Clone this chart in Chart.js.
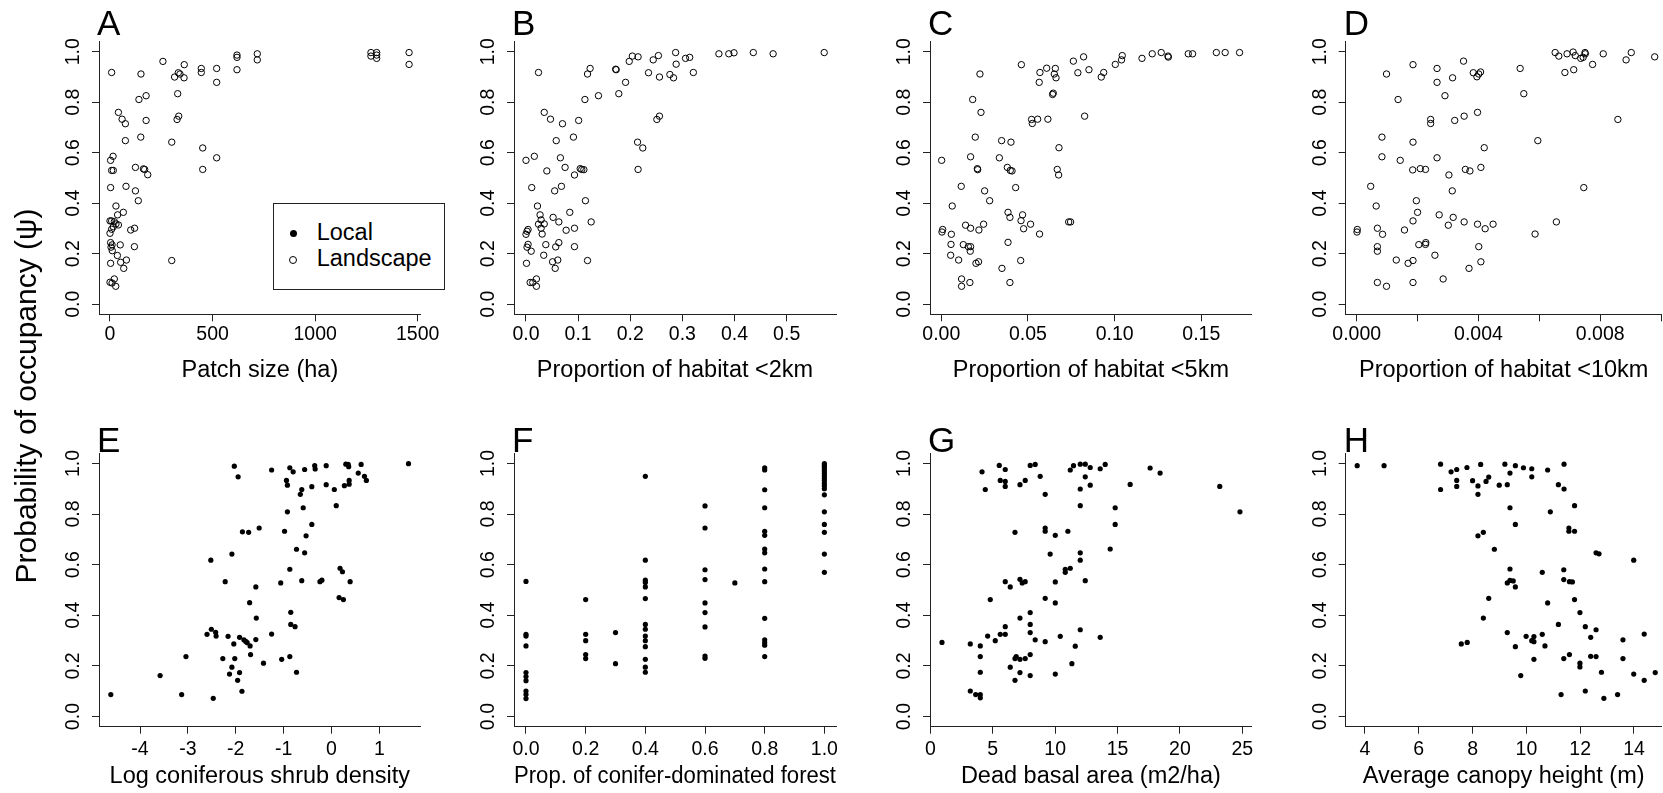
<!DOCTYPE html>
<html lang="en">
<head>
<meta charset="utf-8">
<title>Probability of occupancy</title>
<script src="https://cdn.jsdelivr.net/npm/chart.js"></script>
<style>
  html, body { margin: 0; padding: 0; background: #fff; }
  body { position: relative; width: 1663px; height: 793px; overflow: hidden;
         font-family: "Liberation Sans", Arial, sans-serif; color: #000; }
  canvas { position: absolute; }
  .letter { position: absolute; font-size: 35px; line-height: 35px; }
  #yTitle { position: absolute; left: -194px; top: 381px; width: 440px; height: 30px;
            line-height: 30px; font-size: 30px; text-align: center; white-space: nowrap;
            transform: rotate(-90deg); }
  #legend { position: absolute; left: 273px; top: 203px; width: 172px; height: 87px;
            border: 1px solid #222; box-sizing: border-box; background: #fff; }
  #legend .dot { position: absolute; left: 15.8px; top: 25.8px; width: 7px; height: 7px;
                 border-radius: 50%; background: #000; }
  #legend .ring { position: absolute; left: 15.3px; top: 52px; width: 8px; height: 8px;
                  border-radius: 50%; border: 1px solid #000; box-sizing: border-box; }
  #legend .txt { position: absolute; left: 42.7px; font-size: 23.5px; line-height: 23.5px; white-space: nowrap; }
</style>
</head>
<body>

<script>
// ---- data ----
const occTicks = [0, 0.2, 0.4, 0.6, 0.8, 1.0];
const occLabels = ['0.0', '0.2', '0.4', '0.6', '0.8', '1.0'];

// A: patch size (landscape)
const patchTicks = [0, 500, 1000, 1500];
const patchLabels = ['0', '500', '1000', '1500'];
const patchX = [8, 151, 258, 362, 315, 333, 341, 361, 445, 445,
  520, 520, 619, 619, 619, 718, 718, 1272, 1272, 1300,
  1300, 1300, 1458, 1458, 141, 176, 330, 41, 59, 75,
  176, 335, 327, 150, 75, 301, 452, 520, 452, 15,
  3, 8, 16, 124, 163, 169, 184, 3, 78, 124,
  138, 29, 65, 37, 0, 8, 21, 29, 41, 16,
  8, 0, 101, 120, 3, 10, 5, 50, 119, 11,
  36, 3, 52, 80, 67, 301, 21, 0, 10, 28];
const patchY = [0.918, 0.912, 0.962, 0.949, 0.900, 0.917, 0.912, 0.897, 0.934, 0.918,
  0.934, 0.879, 0.987, 0.978, 0.929, 0.992, 0.968, 0.997, 0.983, 0.997,
  0.987, 0.974, 0.997, 0.950, 0.811, 0.826, 0.834, 0.760, 0.733, 0.715,
  0.728, 0.745, 0.732, 0.662, 0.648, 0.642, 0.619, 0.580, 0.534, 0.586,
  0.570, 0.530, 0.530, 0.542, 0.536, 0.534, 0.513, 0.462, 0.467, 0.449,
  0.410, 0.389, 0.364, 0.354, 0.330, 0.330, 0.327, 0.318, 0.314, 0.307,
  0.297, 0.281, 0.294, 0.301, 0.244, 0.235, 0.226, 0.235, 0.228, 0.212,
  0.193, 0.162, 0.166, 0.175, 0.142, 0.173, 0.100, 0.087, 0.084, 0.071];

// B: habitat < 2km (landscape)
const hab2Ticks = [0, 0.1, 0.2, 0.3, 0.4, 0.5];
const hab2Labels = ['0.0', '0.1', '0.2', '0.3', '0.4', '0.5'];
const hab2X = [0.024, 0.118, 0.123, 0.172, 0.173, 0.198, 0.204, 0.215, 0.191, 0.178,
  0.139, 0.113, 0.235, 0.244, 0.254, 0.256, 0.276, 0.283, 0.287, 0.288,
  0.306, 0.314, 0.321, 0.370, 0.389, 0.399, 0.436, 0.474, 0.572, 0.251,
  0.256, 0.214, 0.224, 0.215, 0.035, 0.047, 0.070, 0.101, 0.091, 0.058,
  0.066, 0.016, 0.000, 0.040, 0.075, 0.093, 0.104, 0.107, 0.111, 0.011,
  0.068, 0.055, 0.114, 0.022, 0.084, 0.027, 0.029, 0.052, 0.063, 0.125,
  0.024, 0.035, 0.029, 0.031, 0.077, 0.093, 0.000, 0.002, 0.004, 0.004,
  0.002, 0.010, 0.038, 0.057, 0.063, 0.093, 0.034, 0.001, 0.051, 0.061,
  0.056, 0.118, 0.020, 0.008, 0.013, 0.020];
const hab2Y = [0.918, 0.912, 0.934, 0.931, 0.929, 0.962, 0.983, 0.980, 0.879, 0.834,
  0.826, 0.811, 0.917, 0.968, 0.985, 0.900, 0.910, 0.897, 0.997, 0.951,
  0.974, 0.978, 0.918, 0.992, 0.992, 0.996, 0.997, 0.992, 0.997, 0.732,
  0.745, 0.642, 0.619, 0.534, 0.760, 0.733, 0.715, 0.728, 0.662, 0.648,
  0.580, 0.586, 0.570, 0.528, 0.542, 0.512, 0.537, 0.534, 0.533, 0.462,
  0.467, 0.449, 0.410, 0.389, 0.364, 0.354, 0.334, 0.344, 0.326, 0.326,
  0.317, 0.318, 0.301, 0.278, 0.293, 0.301, 0.277, 0.289, 0.296, 0.237,
  0.226, 0.210, 0.236, 0.227, 0.244, 0.228, 0.194, 0.162, 0.168, 0.175,
  0.142, 0.173, 0.100, 0.086, 0.086, 0.071];

// C: habitat < 5km (landscape)
const hab5Ticks = [0, 0.05, 0.10, 0.15];
const hab5Labels = ['0.00', '0.05', '0.10', '0.15'];
const hab5X = [0.0462, 0.0223, 0.0569, 0.0608, 0.0565, 0.0658, 0.0652, 0.0662, 0.0642, 0.0646,
  0.0762, 0.0821, 0.0788, 0.0852, 0.0923, 0.0937, 0.1004, 0.1040, 0.1044, 0.1158,
  0.1217, 0.1269, 0.1308, 0.1310, 0.1425, 0.1450, 0.1587, 0.1638, 0.1721, 0.0827,
  0.0521, 0.0525, 0.0556, 0.0615, 0.0181, 0.0229, 0.0196, 0.0348, 0.0402, 0.0679,
  0.0335, 0.0169, 0.0002, 0.0208, 0.0210, 0.0381, 0.0398, 0.0408, 0.0669, 0.0677,
  0.0115, 0.0250, 0.0429, 0.0279, 0.0063, 0.0385, 0.0469, 0.0396, 0.0460, 0.0515,
  0.0475, 0.0140, 0.0169, 0.0244, 0.0217, 0.0008, 0.0004, 0.0058, 0.0567, 0.0735,
  0.0746, 0.0056, 0.0127, 0.0156, 0.0169, 0.0167, 0.0054, 0.0100, 0.0200, 0.0215,
  0.0385, 0.0458, 0.0350, 0.0117, 0.0117, 0.0165, 0.0396];
const hab5Y = [0.949, 0.912, 0.918, 0.935, 0.879, 0.934, 0.912, 0.897, 0.831, 0.836,
  0.963, 0.980, 0.917, 0.929, 0.900, 0.918, 0.950, 0.968, 0.985, 0.974,
  0.992, 0.997, 0.983, 0.979, 0.992, 0.992, 0.997, 0.997, 0.997, 0.745,
  0.732, 0.716, 0.733, 0.733, 0.811, 0.760, 0.662, 0.648, 0.642, 0.620,
  0.580, 0.584, 0.570, 0.537, 0.533, 0.542, 0.530, 0.528, 0.534, 0.512,
  0.467, 0.449, 0.462, 0.410, 0.389, 0.364, 0.354, 0.344, 0.331, 0.317,
  0.299, 0.313, 0.301, 0.317, 0.294, 0.296, 0.286, 0.277, 0.278, 0.326,
  0.326, 0.237, 0.236, 0.228, 0.228, 0.210, 0.194, 0.175, 0.162, 0.168,
  0.245, 0.173, 0.142, 0.100, 0.071, 0.086, 0.086];

// D: habitat < 10km (landscape)
const hab10Ticks = [0, 0.002, 0.004, 0.006, 0.008, 0.010];
const hab10Labels = ['0.000', '', '0.004', '', '0.008', ''];
const hab10X = [0.00185, 0.00098, 0.00264, 0.00264, 0.00315, 0.00351, 0.00383, 0.00395, 0.00401, 0.00407,
  0.00290, 0.00136, 0.00537, 0.00549, 0.00652, 0.00664, 0.00684, 0.00691, 0.00711, 0.00713,
  0.00718, 0.00736, 0.00744, 0.00750, 0.00751, 0.00775, 0.00810, 0.00885, 0.00902, 0.00979,
  0.00858, 0.00243, 0.00243, 0.00322, 0.00353, 0.00397, 0.00083, 0.00185, 0.00595, 0.00419,
  0.00083, 0.00143, 0.00264, 0.00184, 0.00209, 0.00226, 0.00303, 0.00357, 0.00372, 0.00408,
  0.00046, 0.00314, 0.00746, 0.00196, 0.00064, 0.00200, 0.00271, 0.00185, 0.00317, 0.00353,
  0.00301, 0.00397, 0.00422, 0.00448, 0.00656, 0.00586, 0.00068, 0.00085, 0.00157, 0.00002,
  0.00001, 0.00068, 0.00068, 0.00204, 0.00226, 0.00227, 0.00257, 0.00401, 0.00130, 0.00169,
  0.00185, 0.00369, 0.00408, 0.00068, 0.00098, 0.00185, 0.00284];
const hab10Y = [0.949, 0.912, 0.934, 0.879, 0.897, 0.963, 0.917, 0.901, 0.912, 0.920,
  0.826, 0.811, 0.934, 0.834, 0.997, 0.983, 0.918, 0.992, 0.999, 0.929,
  0.985, 0.974, 0.978, 0.997, 0.992, 0.950, 0.992, 0.968, 0.997, 0.980,
  0.732, 0.732, 0.716, 0.728, 0.745, 0.760, 0.662, 0.642, 0.648, 0.620,
  0.584, 0.570, 0.580, 0.532, 0.537, 0.534, 0.512, 0.534, 0.528, 0.542,
  0.467, 0.449, 0.462, 0.410, 0.389, 0.364, 0.354, 0.330, 0.344, 0.326,
  0.313, 0.317, 0.299, 0.317, 0.326, 0.278, 0.301, 0.277, 0.294, 0.296,
  0.286, 0.228, 0.210, 0.236, 0.237, 0.244, 0.194, 0.228, 0.175, 0.162,
  0.173, 0.142, 0.168, 0.086, 0.071, 0.086, 0.100];

// E: log coniferous shrub density (local)
const shrubTicks = [-4, -3, -2, -1, 0, 1];
const shrubLabels = ['-4', '-3', '-2', '-1', '0', '1'];
const shrubX = [-4.61, -3.58, -3.13, -3.04, -2.47, -2.60, -2.51, -2.42, -2.41, -2.52,
  -2.22, -2.08, -2.16, -2.27, -2.13, -2.08, -2.04, -2.02, -2.03, -1.95,
  -1.96, -1.92, -1.87, -1.92, -1.86, -1.83, -1.79, -1.76, -1.73, -1.71,
  -1.70, -1.69, -1.58, -1.57, -1.58, -1.51, -1.42, -1.25, -1.25, -1.06,
  -1.04, -0.98, -0.94, -0.92, -0.92, -0.87, -0.87, -0.87, -0.85, -0.85,
  -0.80, -0.76, -0.73, -0.73, -0.65, -0.62, -0.62, -0.59, -0.56, -0.56,
  -0.53, -0.41, -0.41, -0.35, -0.34, -0.24, -0.20, -0.11, -0.11, 0.06,
  0.10, 0.16, 0.18, 0.23, 0.25, 0.27, 0.30, 0.35, 0.36, 0.37,
  0.37, 0.39, 0.56, 0.62, 0.69, 0.73, 1.61];
const shrubY = [0.087, 0.162, 0.087, 0.237, 0.072, 0.325, 0.345, 0.333, 0.318, 0.618,
  0.533, 0.642, 0.317, 0.229, 0.168, 0.195, 0.287, 0.229, 0.989, 0.947,
  0.143, 0.174, 0.100, 0.313, 0.730, 0.303, 0.297, 0.292, 0.728, 0.450,
  0.279, 0.245, 0.512, 0.389, 0.304, 0.745, 0.211, 0.974, 0.326, 0.528,
  0.226, 0.732, 0.933, 0.914, 0.809, 0.582, 0.983, 0.237, 0.412, 0.364,
  0.967, 0.355, 0.661, 0.175, 0.878, 0.897, 0.537, 0.825, 0.976, 0.647,
  0.714, 0.759, 0.908, 0.991, 0.978, 0.533, 0.539, 0.991, 0.916, 0.897,
  0.833, 0.470, 0.586, 0.572, 0.462, 0.912, 0.997, 0.996, 0.987, 0.933,
  0.918, 0.533, 0.962, 0.996, 0.949, 0.933, 0.999];

// F: proportion of conifer-dominated forest (local)
const coniferTicks = [0, 0.2, 0.4, 0.6, 0.8, 1.0];
const coniferLabels = ['0.0', '0.2', '0.4', '0.6', '0.8', '1.0'];
const coniferX = [0, 0, 0, 0, 0, 0, 0, 0, 0, 0,
  0.2, 0.2, 0.2, 0.2, 0.2,
  0.3, 0.3,
  0.4, 0.4, 0.4, 0.4, 0.4, 0.4, 0.4, 0.4, 0.4, 0.4, 0.4, 0.4, 0.4, 0.4,
  0.6, 0.6, 0.6, 0.6, 0.6, 0.6, 0.6, 0.6, 0.6,
  0.7,
  0.8, 0.8, 0.8, 0.8, 0.8, 0.8, 0.8, 0.8, 0.8, 0.8, 0.8, 0.8, 0.8, 0.8, 0.8,
  1, 1, 1, 1, 1, 1, 1, 1, 1, 1, 1, 1, 1, 1, 1, 1, 1, 1];
const coniferY = [0.534, 0.325, 0.318, 0.279, 0.174, 0.158, 0.142, 0.101, 0.087, 0.071,
  0.462, 0.325, 0.300, 0.245, 0.229,
  0.332, 0.209,
  0.949, 0.618, 0.539, 0.530, 0.512, 0.466, 0.364, 0.345, 0.318, 0.300, 0.276, 0.226, 0.195, 0.175,
  0.832, 0.745, 0.580, 0.541, 0.449, 0.411, 0.354, 0.239, 0.230,
  0.528,
  0.983, 0.974, 0.896, 0.825, 0.732, 0.716, 0.662, 0.647, 0.583, 0.533, 0.388, 0.303, 0.292, 0.282, 0.237,
  0.999, 0.992, 0.986, 0.978, 0.970, 0.961, 0.951, 0.942, 0.933, 0.921, 0.911, 0.900, 0.876, 0.809, 0.759, 0.728, 0.642, 0.570];

// G: dead basal area (local)
const deadTicks = [0, 5, 10, 15, 20, 25];
const deadLabels = ['0', '5', '10', '15', '20', '25'];
const deadX = [0.93, 3.20, 3.20, 3.63, 4.00, 4.00, 4.00, 4.00, 4.00, 4.14,
  4.40, 4.59, 4.80, 5.20, 5.52, 5.60, 5.60, 6.00, 6.00, 6.00,
  6.00, 6.00, 6.00, 6.40, 6.40, 6.78, 6.78, 6.78, 6.88, 7.18,
  7.18, 7.18, 7.18, 7.18, 7.36, 7.60, 7.60, 7.60, 8.00, 8.00,
  8.00, 8.00, 8.00, 8.00, 8.40, 8.40, 8.80, 9.20, 9.20, 9.20,
  9.20, 9.20, 9.60, 10.01, 10.01, 10.01, 10.01, 10.41, 10.81, 10.81,
  11.02, 11.21, 11.21, 11.34, 11.47, 11.61, 12.01, 12.01, 12.01, 12.01,
  12.01, 12.01, 12.41, 12.41, 12.41, 12.81, 12.81, 13.61, 13.61, 14.01,
  14.41, 14.81, 14.81, 16.01, 17.61, 18.41, 23.19, 24.81];
const deadY = [0.293, 0.287, 0.101, 0.087, 0.087, 0.074, 0.279, 0.237, 0.175, 0.967,
  0.897, 0.318, 0.462, 0.300, 0.992, 0.933, 0.325, 0.976, 0.929, 0.909,
  0.533, 0.355, 0.325, 0.512, 0.195, 0.728, 0.229, 0.143, 0.237, 0.916,
  0.542, 0.389, 0.226, 0.174, 0.528, 0.533, 0.933, 0.229, 0.992, 0.411,
  0.364, 0.332, 0.245, 0.162, 0.996, 0.303, 0.949, 0.878, 0.745, 0.732,
  0.467, 0.296, 0.642, 0.716, 0.532, 0.449, 0.168, 0.317, 0.582, 0.570,
  0.732, 0.974, 0.586, 0.209, 0.991, 0.278, 0.997, 0.899, 0.833, 0.647,
  0.618, 0.343, 0.997, 0.947, 0.537, 0.984, 0.914, 0.979, 0.313, 0.996,
  0.662, 0.825, 0.759, 0.917, 0.982, 0.962, 0.909, 0.809];

// H: average canopy height (local)
const canopyTicks = [4, 6, 8, 10, 12, 14];
const canopyLabels = ['4', '6', '8', '10', '12', '14'];
const canopyX = [3.71, 4.71, 6.81, 6.81, 7.20, 7.41, 7.41, 7.41, 7.58, 7.79,
  7.80, 8.00, 8.20, 8.20, 8.20, 8.30, 8.40, 8.40, 8.50, 8.60,
  8.60, 8.81, 8.99, 9.20, 9.29, 9.29, 9.29, 9.39, 9.39, 9.39,
  9.39, 9.51, 9.59, 9.59, 9.59, 9.59, 9.79, 9.89, 9.99, 10.20,
  10.20, 10.20, 10.28, 10.28, 10.28, 10.59, 10.59, 10.69, 10.79, 10.79,
  10.89, 11.19, 11.19, 11.29, 11.40, 11.40, 11.39, 11.39, 11.39, 11.58,
  11.58, 11.60, 11.60, 11.71, 11.79, 11.79, 11.79, 11.99, 11.99, 11.99,
  12.19, 12.19, 12.39, 12.39, 12.59, 12.59, 12.59, 12.70, 12.79, 12.88,
  13.39, 13.59, 13.59, 13.99, 13.99, 14.38, 14.38, 14.79];
const canopyY = [0.991, 0.991, 0.997, 0.897, 0.967, 0.976, 0.933, 0.909, 0.287, 0.984,
  0.293, 0.932, 0.911, 0.878, 0.714, 0.996, 0.728, 0.389, 0.929, 0.946,
  0.467, 0.661, 0.914, 0.997, 0.916, 0.528, 0.332, 0.962, 0.825, 0.583,
  0.538, 0.536, 0.991, 0.759, 0.512, 0.276, 0.162, 0.983, 0.317, 0.979,
  0.947, 0.300, 0.316, 0.296, 0.226, 0.570, 0.325, 0.279, 0.974, 0.449,
  0.809, 0.916, 0.364, 0.087, 0.997, 0.899, 0.580, 0.541, 0.229, 0.745,
  0.732, 0.533, 0.245, 0.532, 0.833, 0.732, 0.462, 0.411, 0.211, 0.196,
  0.355, 0.101, 0.313, 0.238, 0.647, 0.343, 0.237, 0.643, 0.175, 0.072,
  0.087, 0.303, 0.229, 0.618, 0.168, 0.326, 0.143, 0.174];

// ---- layout ----
const AXIS = '#222';
const Y_AXIS_W = 60;
const ROWS = [
  { top: 41.7, bottom: 314.3, xAxisH: 72, tickPad: 1.5, letterTop: 5.4 },
  { top: 453.3, bottom: 726.7, xAxisH: 65.6, tickPad: 4, letterTop: 422.1 }
];
const COLS = [
  { left: 99, right: 420.7, padR: 26 },
  { left: 514, right: 836, padR: 26 },
  { left: 930, right: 1251.7, padR: 26 },
  { left: 1345.7, right: 1661.7, padR: 6 }
];

const panels = [
  { letter: 'A', row: 0, col: 0, local: false, xs: patchX, ys: patchY, ticks: patchTicks, labels: patchLabels, min: -53.6, max: 1514.6, title: 'Patch size (ha)' },
  { letter: 'B', row: 0, col: 1, local: false, xs: hab2X, ys: hab2Y, ticks: hab2Ticks, labels: hab2Labels, min: -0.023, max: 0.5946, title: 'Proportion of habitat <2km' },
  { letter: 'C', row: 0, col: 2, local: false, xs: hab5X, ys: hab5Y, ticks: hab5Ticks, labels: hab5Labels, min: -0.00652, max: 0.1791, title: 'Proportion of habitat <5km' },
  { letter: 'D', row: 0, col: 3, local: false, xs: hab10X, ys: hab10Y, ticks: hab10Ticks, labels: hab10Labels, min: -0.000361, max: 0.01002, title: 'Proportion of habitat <10km' },
  { letter: 'E', row: 1, col: 0, local: true, xs: shrubX, ys: shrubY, ticks: shrubTicks, labels: shrubLabels, min: -4.857, max: 1.865, title: 'Log coniferous shrub density' },
  { letter: 'F', row: 1, col: 1, local: true, xs: coniferX, ys: coniferY, ticks: coniferTicks, labels: coniferLabels, min: -0.0402, max: 1.039, title: 'Prop. of conifer-dominated forest' },
  { letter: 'G', row: 1, col: 2, local: true, xs: deadX, ys: deadY, ticks: deadTicks, labels: deadLabels, min: -0.03, max: 25.75, title: 'Dead basal area (m2/ha)' },
  { letter: 'H', row: 1, col: 3, local: true, xs: canopyX, ys: canopyY, ticks: canopyTicks, labels: canopyLabels, min: 3.283, max: 15.03, title: 'Average canopy height (m)' }
];

Chart.defaults.font.family = '"Liberation Sans", Arial, sans-serif';
Chart.defaults.color = '#000';

function axisStyle() {
  return {
    grid: { drawOnChartArea: false, drawTicks: true, tickLength: 7, color: AXIS, lineWidth: 1 },
    border: { display: true, color: AXIS, width: 1 }
  };
}

function makePanel(p) {
  const row = ROWS[p.row];
  const col = COLS[p.col];
  const cl = Math.floor(col.left - Y_AXIS_W - 2);
  const ct = Math.floor(row.top - 32);
  const cr = Math.ceil(col.right + col.padR);
  const cb = Math.ceil(row.bottom + row.xAxisH + 2);

  const canvas = document.createElement('canvas');
  canvas.width = cr - cl;
  canvas.height = cb - ct;
  canvas.style.left = cl + 'px';
  canvas.style.top = ct + 'px';
  canvas.style.width = (cr - cl) + 'px';
  canvas.style.height = (cb - ct) + 'px';
  document.body.appendChild(canvas);

  const letter = document.createElement('div');
  letter.className = 'letter';
  letter.textContent = p.letter;
  letter.style.left = (col.left - 2) + 'px';
  letter.style.top = row.letterTop + 'px';
  document.body.appendChild(letter);

  const points = p.xs.map((x, i) => ({ x: x, y: p.ys[i] }));
  const markStyle = p.local
    ? { pointRadius: 2.6, borderWidth: 0, backgroundColor: '#000', borderColor: '#000' }
    : { pointRadius: 3.2, borderWidth: 1, backgroundColor: 'rgba(0,0,0,0)', borderColor: '#000' };

  new Chart(canvas, {
    type: 'scatter',
    data: {
      datasets: [Object.assign({ label: p.local ? 'Local' : 'Landscape', data: points, pointStyle: 'circle', pointHoverRadius: 3 }, markStyle)]
    },
    options: {
      responsive: false,
      animation: false,
      devicePixelRatio: 1,
      layout: {
        padding: {
          left: col.left - Y_AXIS_W - cl,
          right: cr - col.right,
          top: row.top - ct,
          bottom: cb - row.bottom - row.xAxisH
        }
      },
      plugins: { legend: { display: false }, tooltip: { enabled: false } },
      scales: {
        x: Object.assign({
          type: 'linear', position: 'bottom', bounds: 'data', min: p.min, max: p.max,
          afterBuildTicks: s => { s.ticks = p.ticks.map(v => ({ value: v })); },
          afterFit: s => { s.height = row.xAxisH; },
          ticks: { autoSkip: false, maxRotation: 0, minRotation: 0, padding: row.tickPad,
                   font: { size: 19.5 }, color: '#000', callback: (v, i) => p.labels[i] },
          title: { display: true, text: p.title, color: '#000', font: { size: 23.5 }, padding: { top: 0, bottom: 2 } }
        }, axisStyle()),
        y: Object.assign({
          type: 'linear', position: 'left', bounds: 'data', min: -0.04, max: 1.04,
          afterBuildTicks: s => { s.ticks = occTicks.map(v => ({ value: v })); },
          afterFit: s => { s.width = Y_AXIS_W; },
          ticks: { autoSkip: false, minRotation: 90, maxRotation: 90, crossAlign: 'center', padding: 4.5,
                   font: { size: 19.5 }, color: '#000', callback: (v, i) => occLabels[i] }
        }, axisStyle())
      }
    }
  });
}

panels.forEach(makePanel);
</script>

<div id="yTitle">Probability of occupancy (ψ)</div>
<div id="legend">
  <span class="dot"></span><span class="txt" style="top:17.2px">Local</span>
  <span class="ring"></span><span class="txt" style="top:43.3px">Landscape</span>
</div>

</body>
</html>
